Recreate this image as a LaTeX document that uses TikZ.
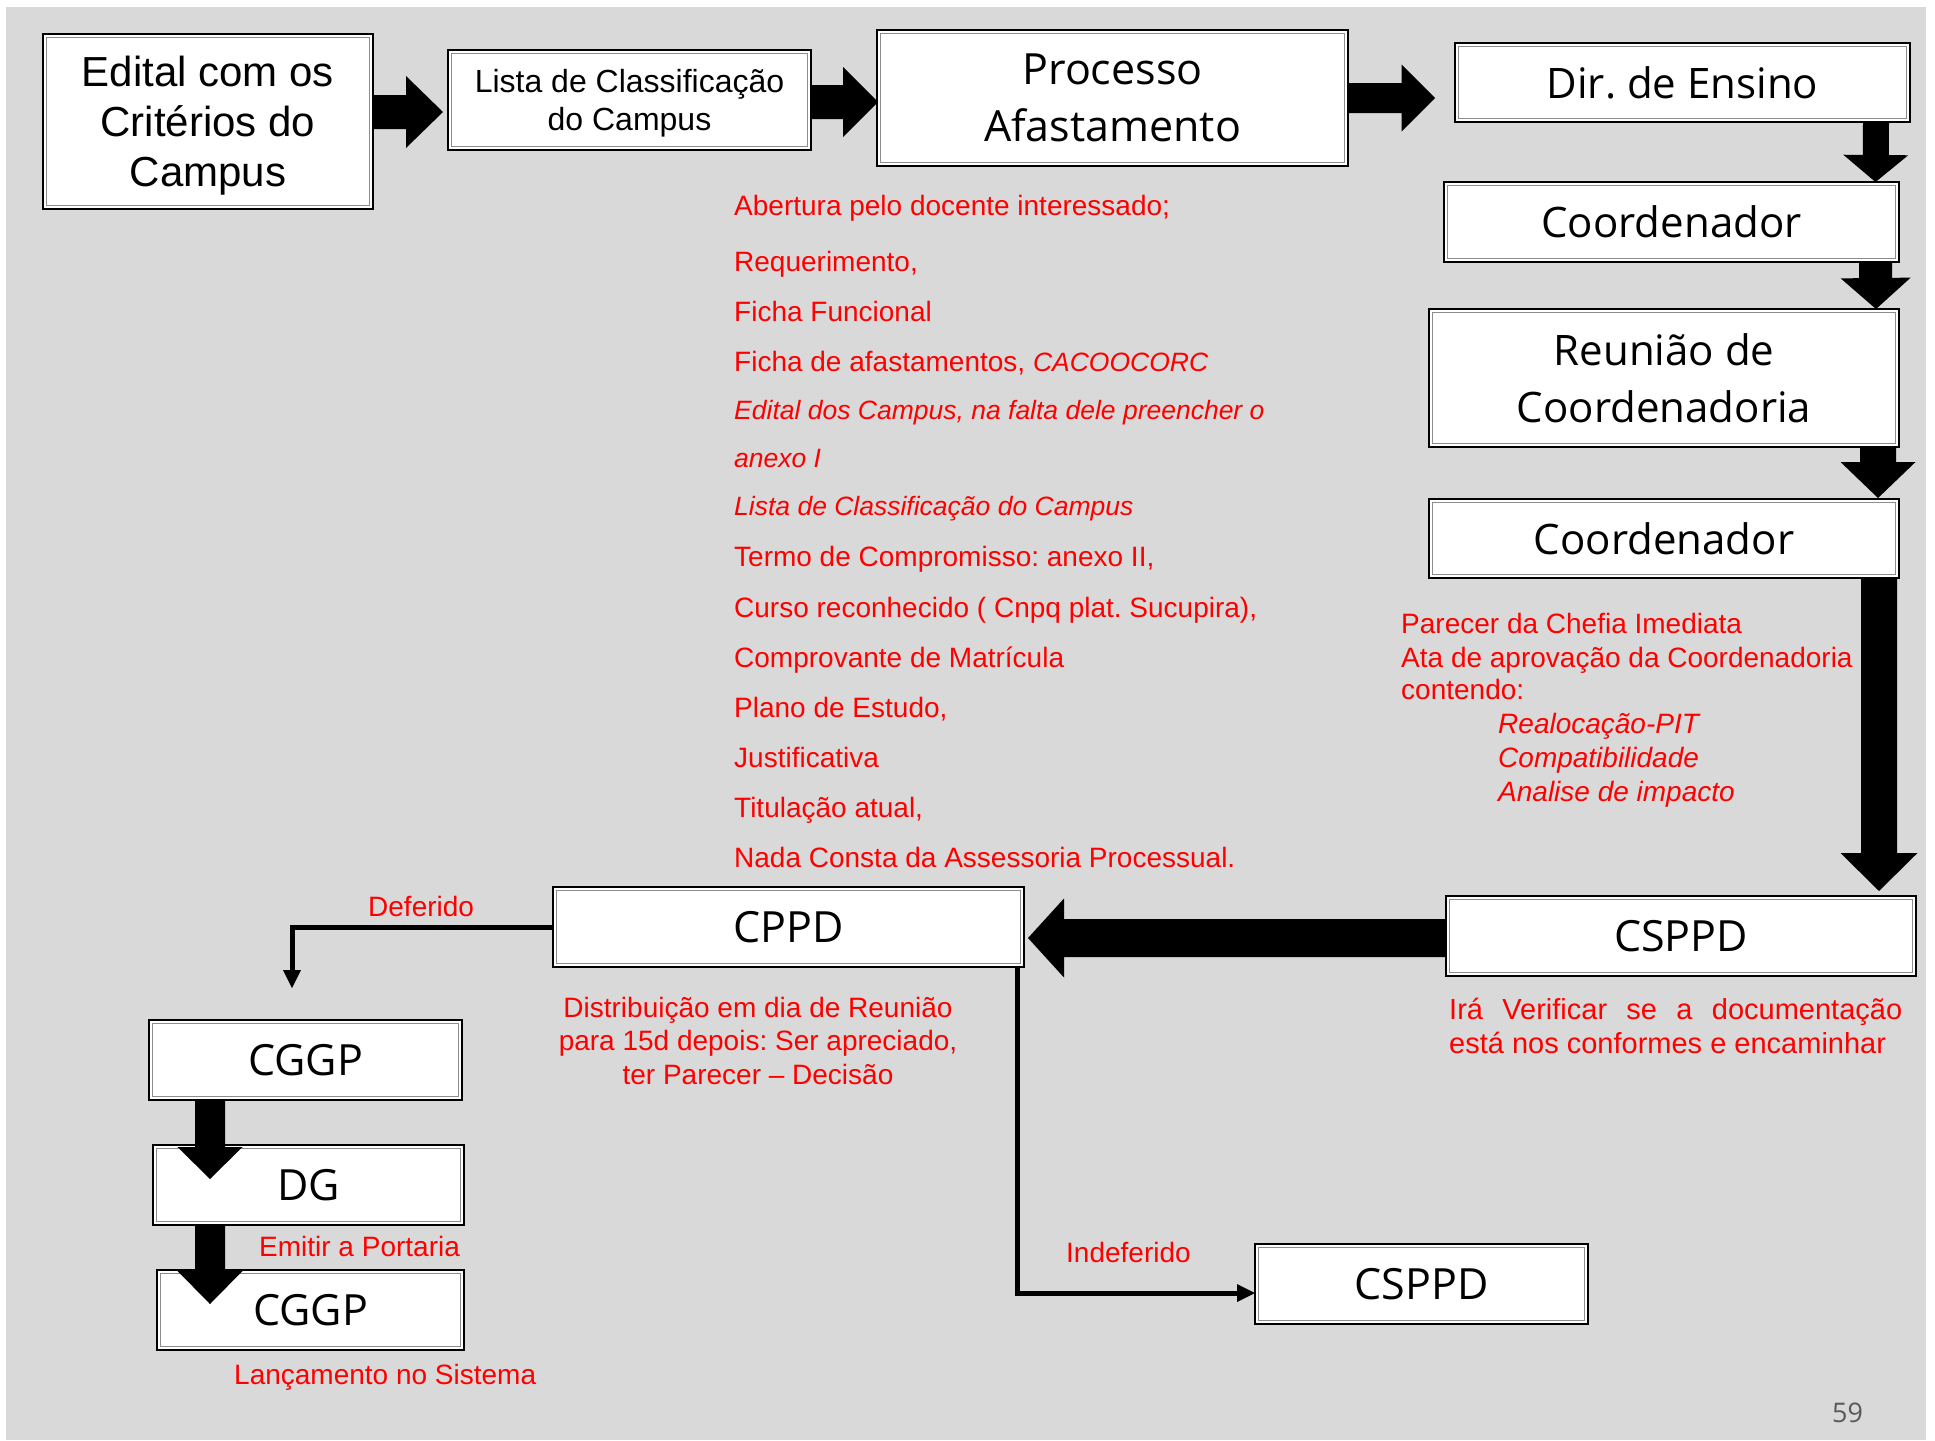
\documentclass[tikz,border=0pt]{standalone}
\usepackage{fontspec}
\setmainfont{Liberation Sans}
\newfontfamily\osans{Open Sans}
\usetikzlibrary{calc,arrows.meta}
\definecolor{bgray}{HTML}{D9D9D9}
\definecolor{pagenum}{HTML}{595959}
\definecolor{inline}{HTML}{8C8C8C}
\frenchspacing
% #1 start, #2 tip, #3 shaft half width, #4 head half width, #5 head length
\newcommand\blockarrow[5]{%
  \path (#1) coordinate (ba-s) (#2) coordinate (ba-t);
  \path ($(ba-t)!#5!(ba-s)$) coordinate (ba-b);
  \fill[black] ($(ba-s)!#3!90:(ba-t)$) -- ($(ba-b)!#3!-90:(ba-s)$) -- ($(ba-b)!#4!-90:(ba-s)$)
     -- (ba-t) -- ($(ba-b)!#4!90:(ba-s)$) -- ($(ba-b)!#3!90:(ba-s)$) -- ($(ba-s)!#3!-90:(ba-t)$) -- cycle;}
\newcommand\smit[1]{{\fontsize{26.5}{34}\selectfont\itshape #1}}
\begin{document}
\begin{tikzpicture}[x=1pt,y=-1pt,
  box/.style={draw=black, line width=2.5pt, fill=white, inner sep=0pt, outer sep=0pt, align=center,
    path picture={\draw[line width=1pt, inline] ([xshift=3.5pt,yshift=-3.5pt]path picture bounding box.north west) rectangle ([xshift=-3.5pt,yshift=3.5pt]path picture bounding box.south east);}},
  osbox/.style={box, font=\osans\fontsize{42}{57}\selectfont},
  osboxb/.style={box, font=\osans\fontsize{43}{57}\selectfont},
  redtxt/.style={text=red, font=\fontsize{28}{34}\selectfont, inner sep=0pt, anchor=base west},
  redit/.style={redtxt, font=\fontsize{28}{34}\selectfont\itshape},
  thinarrow/.style={line width=5pt, -{Triangle[length=18pt,width=18pt,line width=0pt]}},
]
\useasboundingbox (0,0) rectangle (1935,1440);
\fill[white] (0,0) rectangle (1935,1440);
\fill[bgray] (6,7) rectangle (1926,1440);

% boxes
\node[box, font=\fontsize{42}{50}\selectfont, text depth=0pt, minimum width=330pt, minimum height=175pt] (edital) at (208,121.5) {Edital com os\\Critérios do\\Campus};
\node[box, font=\fontsize{32}{38}\selectfont, text depth=0pt, minimum width=363pt, minimum height=100pt] (lista) at (629.5,100) {Lista de Classificação\\do Campus};
\node[osbox, font=\osans\fontsize{43}{57}\selectfont, minimum width=471pt, minimum height=136pt] (processo) at (1112.5,98) {Processo\\Afastamento};
\node[osbox, minimum width=455pt, minimum height=79pt] (dir) at (1682.5,82.5) {Dir. de Ensino};
\node[osbox, minimum width=455pt, minimum height=80pt] (coord1) at (1671.5,222) {Coordenador};
\node[osbox, minimum width=470pt, minimum height=138pt] (reuniao) at (1664,378) {Reunião de\\Coordenadoria};
\node[osbox, minimum width=470pt, minimum height=79pt] (coord2) at (1664,538.5) {Coordenador};
\node[osboxb, minimum width=470pt, minimum height=80pt] (cspp1) at (1681,936) {CSPPD};
\node[osboxb, minimum width=471pt, minimum height=80pt] (cppd) at (788.5,927) {CPPD};
\node[osboxb, minimum width=313pt, minimum height=80pt] (cggp1) at (305.5,1060) {CGGP};
\node[osboxb, minimum width=311pt, minimum height=80pt] (dg) at (308.5,1185) {DG};
\node[osboxb, minimum width=307pt, minimum height=80pt] (cggp2) at (310.5,1310) {CGGP};
\node[osboxb, minimum width=333pt, minimum height=80pt] (cspp2) at (1421.5,1284) {CSPPD};

% block arrows
\blockarrow{$(edital.east)+(0,-9.5)$}{$(lista.west)+(-5,12)$}{17pt}{36pt}{37pt}
\blockarrow{$(lista.east)+(0,2)$}{$(processo.west)+(1,4)$}{17pt}{35pt}{35pt}
\blockarrow{processo.east}{$(dir.west)+(-20,15.5)$}{15pt}{33.5pt}{33.5pt}
\blockarrow{$(dir.south east)+(-34,0)$}{$(coord1.north east)+(-23.5,0)$}{13pt}{32.5pt}{27pt}
\blockarrow{$(coord1.south east)+(-23.5,0)$}{$(reuniao.north east)+(-23,0)$}{16.5pt}{35pt}{31pt}
\blockarrow{$(reuniao.south east)+(-21,0)$}{$(coord2.north east)+(-21,-1)$}{18pt}{37.5pt}{36pt}
\blockarrow{$(coord2.south east)+(-20,0)$}{$(cspp1.north east)+(-37,-5)$}{18pt}{38.5pt}{38pt}
\blockarrow{$(cspp1.west)+(0,2)$}{$(cppd.east)+(4,11)$}{19pt}{39.5pt}{36pt}
\blockarrow{$(cggp1.south west)+(61,0)$}{$(dg.north west)+(57,34)$}{15pt}{32.5pt}{32pt}
\blockarrow{$(dg.south west)+(57,0)$}{$(cggp2.north west)+(53,34)$}{15pt}{32.5pt}{33pt}

% thin connectors
\coordinate (defend) at (292,988);
\draw[thinarrow] (cppd.west) -| (defend);
\coordinate (indstart) at ($(cppd.south east)+(-7,0)$);
\coordinate (indend) at ($(cspp2.west)+(0,9)$);
\draw[thinarrow] (indstart) |- (indend);

% red list
\node[redtxt] (t1) at (734,215) {Abertura pelo docente interessado;};
\node[redtxt] (t2) at (734,271) {Requerimento,};
\node[redtxt] (t3) at (734,321) {Ficha Funcional};
\node[redtxt] (t4) at (734,371) {Ficha de afastamentos, \smit{CACOOCORC}};
\node[redtxt] (t5) at (734,419) {\smit{Edital dos Campus, na falta dele preencher o}};
\node[redtxt] (t6) at (734,467) {\smit{anexo I}};
\node[redtxt] (t7) at (734,515) {\smit{Lista de Classificação do Campus}};
\node[redtxt] (t8) at (734,566) {Termo de Compromisso: anexo II,};
\node[redtxt] (t9) at (734,617) {Curso reconhecido ( Cnpq plat. Sucupira),};
\node[redtxt] (t10) at (734,667) {Comprovante de Matrícula};
\node[redtxt] (t11) at (734,717) {Plano de Estudo,};
\node[redtxt] (t12) at (734,767) {Justificativa};
\node[redtxt] (t13) at (734,817) {Titulação atual,};
\node[redtxt] (t14) at (734,867) {Nada Consta da Assessoria Processual.};

% right block
\node[redtxt] (r1) at (1401,633) {Parecer da Chefia Imediata};
\node[redtxt] (r2) at (1401,667) {Ata de aprovação da Coordenadoria};
\node[redtxt] (r3) at (1401,699) {contendo:};
\node[redit] (r4) at (1498,733) {Realocação-PIT};
\node[redit] (r5) at (1498,767) {Compatibilidade};
\node[redit] (r6) at (1498,801) {Analise de impacto};

% CSPPD note
\node[redtxt, font=\fontsize{29}{34}\selectfont] (v1) at (1449,1019) {\makebox[453pt][s]{Irá Verificar se a documentação}};
\node[redtxt, font=\fontsize{29}{34}\selectfont] (v2) at (1449,1053) {está nos conformes e encaminhar};

% CPPD note
\node[redtxt, anchor=base] (d1) at (758,1017) {Distribuição em dia de Reunião};
\node[redtxt, anchor=base] (d2) at (758,1050.5) {para 15d depois: Ser apreciado,};
\node[redtxt, anchor=base] (d3) at (758,1084) {ter Parecer – Decisão};

% labels
\node[redtxt] (deflab) at (368,916) {Deferido};
\node[redtxt] (indlab) at (1066,1262) {Indeferido};
\node[redtxt] (emit) at (259,1256) {Emitir a Portaria};
\node[redtxt] (lanc) at (234,1384) {Lançamento no Sistema};

\node[inner sep=0pt, anchor=base west, text=pagenum, font=\osans\fontsize{27}{30}\selectfont] (pnum) at (1832,1422) {59};
\end{tikzpicture}
\end{document}
